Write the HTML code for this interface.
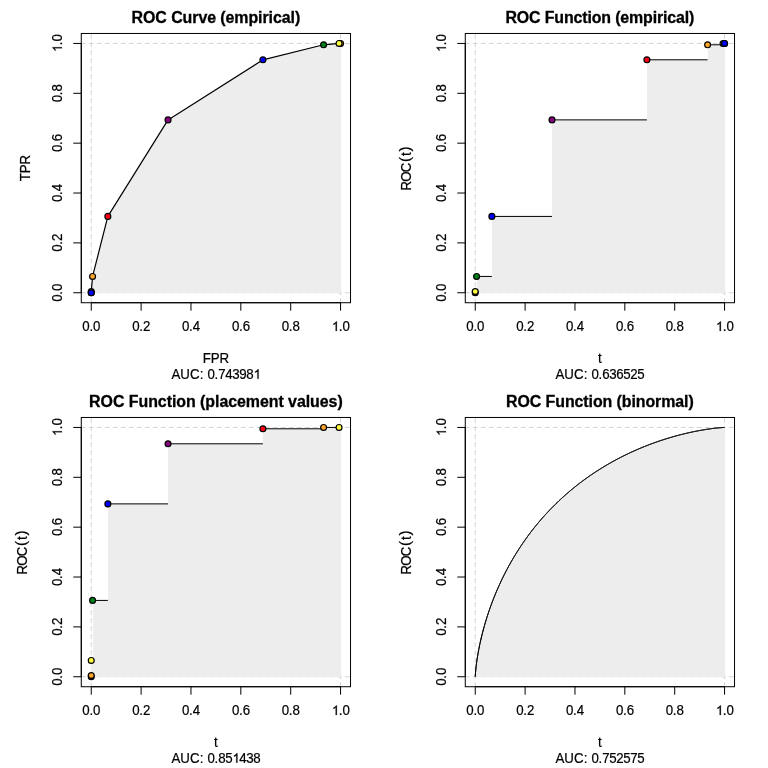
<!DOCTYPE html><html><head><meta charset="utf-8"><style>html,body{margin:0;padding:0;background:#fff;overflow:hidden}svg{display:block;will-change:transform}</style></head><body>
<svg width="768" height="768" viewBox="0 0 768 768">
<rect width="768" height="768" fill="#fff"/>
<g transform="translate(0,0)">
<g stroke="#D3D3D3" stroke-width="1.0" stroke-dasharray="4 4" stroke-linecap="round" fill="none">
<line x1="81.27" y1="292.76" x2="350.53" y2="292.76"/>
<line x1="81.27" y1="43.45" x2="350.53" y2="43.45"/>
<line x1="91.25" y1="302.73" x2="91.25" y2="33.47"/>
<line x1="340.56" y1="302.73" x2="340.56" y2="33.47"/>
</g>
<polygon points="91.25,292.76 91.25,291.51 92.59,276.43 107.85,216.42 168.03,119.89 262.9,59.8 323.6,44.79 339.06,43.45 340.56,43.45 340.56,292.76" fill="#EDEDED" shape-rendering="crispEdges"/>
<polyline points="91.25,292.76 91.25,291.51 92.59,276.43 107.85,216.42 168.03,119.89 262.9,59.8 323.6,44.79 339.06,43.45 340.56,43.45" fill="none" stroke="#000" stroke-width="1.2" stroke-linejoin="round"/>
<g stroke="#000" stroke-width="1.0"><circle cx="340.56" cy="43.45" r="2.95" fill="#FFA52C" stroke="none" shape-rendering="crispEdges"/><circle cx="340.56" cy="43.45" r="2.95" fill="none" stroke-width="1.2"/><circle cx="339.06" cy="43.45" r="2.95" fill="#FFFF41" stroke="none" shape-rendering="crispEdges"/><circle cx="339.06" cy="43.45" r="2.95" fill="none" stroke-width="1.2"/><circle cx="323.6" cy="44.79" r="2.95" fill="#008018" stroke="none" shape-rendering="crispEdges"/><circle cx="323.6" cy="44.79" r="2.95" fill="none" stroke-width="1.2"/><circle cx="262.9" cy="59.8" r="2.95" fill="#0000F9" stroke="none" shape-rendering="crispEdges"/><circle cx="262.9" cy="59.8" r="2.95" fill="none" stroke-width="1.2"/><circle cx="168.03" cy="119.89" r="2.95" fill="#86007D" stroke="none" shape-rendering="crispEdges"/><circle cx="168.03" cy="119.89" r="2.95" fill="none" stroke-width="1.2"/><circle cx="107.85" cy="216.42" r="2.95" fill="#FF0018" stroke="none" shape-rendering="crispEdges"/><circle cx="107.85" cy="216.42" r="2.95" fill="none" stroke-width="1.2"/><circle cx="92.59" cy="276.43" r="2.95" fill="#FFA52C" stroke="none" shape-rendering="crispEdges"/><circle cx="92.59" cy="276.43" r="2.95" fill="none" stroke-width="1.2"/><circle cx="91.25" cy="291.51" r="2.95" fill="#FFFF41" stroke="none" shape-rendering="crispEdges"/><circle cx="91.25" cy="291.51" r="2.95" fill="none" stroke-width="1.2"/><circle cx="91.25" cy="292.76" r="2.95" fill="#008018" stroke="none" shape-rendering="crispEdges"/><circle cx="91.25" cy="292.76" r="2.95" fill="none" stroke-width="1.2"/><circle cx="91.25" cy="292.76" r="2.95" fill="#0000F9" stroke="none" shape-rendering="crispEdges"/><circle cx="91.25" cy="292.76" r="2.95" fill="none" stroke-width="1.2"/></g>
<rect x="81.27" y="33.47" width="269.26" height="269.26" fill="none" stroke="#000" stroke-width="1.0"/>
<path d="M91.25 302.73H340.56 M81.27 292.76V43.45 M91.25 302.73v7.97 M81.27 292.76h-7.97 M141.11 302.73v7.97 M81.27 242.9h-7.97 M190.97 302.73v7.97 M81.27 193.03h-7.97 M240.83 302.73v7.97 M81.27 143.17h-7.97 M290.7 302.73v7.97 M81.27 93.31h-7.97 M340.56 302.73v7.97 M81.27 43.45h-7.97" stroke="#000" stroke-width="1.0" fill="none"/>
<g font-family="Liberation Sans, sans-serif" font-size="13.28" text-anchor="middle" fill="#000" stroke="#000" stroke-width="0.2">
<g transform="translate(91.25 331) scale(1 1.09)"><text text-anchor="start" x="-8.91 -1.87 1.87">0.0</text></g>
<g transform="translate(62 292.76) rotate(-90) scale(1 1.09)"><text text-anchor="start" x="-8.91 -1.87 1.87">0.0</text></g>
<g transform="translate(141.11 331) scale(1 1.09)"><text text-anchor="start" x="-8.91 -1.87 1.87">0.2</text></g>
<g transform="translate(62 242.9) rotate(-90) scale(1 1.09)"><text text-anchor="start" x="-8.91 -1.87 1.87">0.2</text></g>
<g transform="translate(190.97 331) scale(1 1.09)"><text text-anchor="start" x="-8.91 -1.87 1.87">0.4</text></g>
<g transform="translate(62 193.03) rotate(-90) scale(1 1.09)"><text text-anchor="start" x="-8.91 -1.87 1.87">0.4</text></g>
<g transform="translate(240.83 331) scale(1 1.09)"><text text-anchor="start" x="-8.91 -1.87 1.87">0.6</text></g>
<g transform="translate(62 143.17) rotate(-90) scale(1 1.09)"><text text-anchor="start" x="-8.91 -1.87 1.87">0.6</text></g>
<g transform="translate(290.7 331) scale(1 1.09)"><text text-anchor="start" x="-8.91 -1.87 1.87">0.8</text></g>
<g transform="translate(62 93.31) rotate(-90) scale(1 1.09)"><text text-anchor="start" x="-8.91 -1.87 1.87">0.8</text></g>
<g transform="translate(340.56 331) scale(1 1.09)"><text text-anchor="start" x="-1.87 1.87">.0</text><path transform="translate(-8.66 0) scale(0.006484 -0.006484)" d="M583 0L763 0L763 1334L646 1334Q598 1247 482 1161Q366 1076 230 1019L230 861Q300 885 391 933Q482 981 583 1044Z" stroke-width="30.8"/></g>
<g transform="translate(62 43.45) rotate(-90) scale(1 1.09)"><text text-anchor="start" x="-1.87 1.87">.0</text><path transform="translate(-8.66 0) scale(0.006484 -0.006484)" d="M583 0L763 0L763 1334L646 1334Q598 1247 482 1161Q366 1076 230 1019L230 861Q300 885 391 933Q482 981 583 1044Z" stroke-width="30.8"/></g>
<g transform="translate(215.9 362.9) scale(1 1.09)"><text text-anchor="start" x="-13.28 -5.17 3.69">FPR</text></g>
<g transform="translate(215.9 378.8) scale(1 1.09)"><text text-anchor="start" x="-44.51 -35.61 -25.91 -16.21 -8.51 -1.47 2.27 9.31 16.35 23.39 30.43">AUC:0.74398</text><path transform="translate(37.72 0) scale(0.006484 -0.006484)" d="M583 0L763 0L763 1334L646 1334Q598 1247 482 1161Q366 1076 230 1019L230 861Q300 885 391 933Q482 981 583 1044Z" stroke-width="30.8"/></g>
<g transform="translate(30 168.1) rotate(-90) scale(1 1.09)"><text text-anchor="start" x="-13.28 -5.17 3.69">TPR</text></g>
<text transform="translate(215.9 22.6) scale(1 1.09)" font-weight="bold" font-size="15.94" stroke-width="0.3" textLength="168.6" lengthAdjust="spacing">ROC Curve (empirical)</text>
</g>
</g>
<g transform="translate(384,0)">
<g stroke="#D3D3D3" stroke-width="1.0" stroke-dasharray="4 4" stroke-linecap="round" fill="none">
<line x1="81.27" y1="292.76" x2="350.53" y2="292.76"/>
<line x1="81.27" y1="43.45" x2="350.53" y2="43.45"/>
<line x1="91.25" y1="302.73" x2="91.25" y2="33.47"/>
<line x1="340.56" y1="302.73" x2="340.56" y2="33.47"/>
</g>
<polygon points="91.25,292.76 91.25,292.76 91.25,292.76 91.25,291.51 92.59,291.51 92.59,276.43 107.85,276.43 107.85,216.42 168.03,216.42 168.03,119.89 262.9,119.89 262.9,59.8 323.6,59.8 323.6,44.79 339.06,44.79 339.06,43.45 340.56,43.45 340.56,43.45 340.56,43.45 340.56,292.76" fill="#EDEDED" shape-rendering="crispEdges"/>
<path d="M91.25 291.51H92.59 M92.59 276.43H107.85 M107.85 216.42H168.03 M168.03 119.89H262.9 M262.9 59.8H323.6 M323.6 44.79H339.06 M339.06 43.45H340.56" fill="none" stroke="#000" stroke-width="1.0"/>
<g stroke="#000" stroke-width="1.0"><circle cx="91.25" cy="292.76" r="2.95" fill="#FFA52C" stroke="none" shape-rendering="crispEdges"/><circle cx="91.25" cy="292.76" r="2.95" fill="none" stroke-width="1.2"/><circle cx="91.25" cy="291.51" r="2.95" fill="#FFFF41" stroke="none" shape-rendering="crispEdges"/><circle cx="91.25" cy="291.51" r="2.95" fill="none" stroke-width="1.2"/><circle cx="92.59" cy="276.43" r="2.95" fill="#008018" stroke="none" shape-rendering="crispEdges"/><circle cx="92.59" cy="276.43" r="2.95" fill="none" stroke-width="1.2"/><circle cx="107.85" cy="216.42" r="2.95" fill="#0000F9" stroke="none" shape-rendering="crispEdges"/><circle cx="107.85" cy="216.42" r="2.95" fill="none" stroke-width="1.2"/><circle cx="168.03" cy="119.89" r="2.95" fill="#86007D" stroke="none" shape-rendering="crispEdges"/><circle cx="168.03" cy="119.89" r="2.95" fill="none" stroke-width="1.2"/><circle cx="262.9" cy="59.8" r="2.95" fill="#FF0018" stroke="none" shape-rendering="crispEdges"/><circle cx="262.9" cy="59.8" r="2.95" fill="none" stroke-width="1.2"/><circle cx="323.6" cy="44.79" r="2.95" fill="#FFA52C" stroke="none" shape-rendering="crispEdges"/><circle cx="323.6" cy="44.79" r="2.95" fill="none" stroke-width="1.2"/><circle cx="339.06" cy="43.45" r="2.95" fill="#FFFF41" stroke="none" shape-rendering="crispEdges"/><circle cx="339.06" cy="43.45" r="2.95" fill="none" stroke-width="1.2"/><circle cx="340.56" cy="43.45" r="2.95" fill="#008018" stroke="none" shape-rendering="crispEdges"/><circle cx="340.56" cy="43.45" r="2.95" fill="none" stroke-width="1.2"/><circle cx="340.56" cy="43.45" r="2.95" fill="#0000F9" stroke="none" shape-rendering="crispEdges"/><circle cx="340.56" cy="43.45" r="2.95" fill="none" stroke-width="1.2"/></g>
<rect x="81.27" y="33.47" width="269.26" height="269.26" fill="none" stroke="#000" stroke-width="1.0"/>
<path d="M91.25 302.73H340.56 M81.27 292.76V43.45 M91.25 302.73v7.97 M81.27 292.76h-7.97 M141.11 302.73v7.97 M81.27 242.9h-7.97 M190.97 302.73v7.97 M81.27 193.03h-7.97 M240.83 302.73v7.97 M81.27 143.17h-7.97 M290.7 302.73v7.97 M81.27 93.31h-7.97 M340.56 302.73v7.97 M81.27 43.45h-7.97" stroke="#000" stroke-width="1.0" fill="none"/>
<g font-family="Liberation Sans, sans-serif" font-size="13.28" text-anchor="middle" fill="#000" stroke="#000" stroke-width="0.2">
<g transform="translate(91.25 331) scale(1 1.09)"><text text-anchor="start" x="-8.91 -1.87 1.87">0.0</text></g>
<g transform="translate(62 292.76) rotate(-90) scale(1 1.09)"><text text-anchor="start" x="-8.91 -1.87 1.87">0.0</text></g>
<g transform="translate(141.11 331) scale(1 1.09)"><text text-anchor="start" x="-8.91 -1.87 1.87">0.2</text></g>
<g transform="translate(62 242.9) rotate(-90) scale(1 1.09)"><text text-anchor="start" x="-8.91 -1.87 1.87">0.2</text></g>
<g transform="translate(190.97 331) scale(1 1.09)"><text text-anchor="start" x="-8.91 -1.87 1.87">0.4</text></g>
<g transform="translate(62 193.03) rotate(-90) scale(1 1.09)"><text text-anchor="start" x="-8.91 -1.87 1.87">0.4</text></g>
<g transform="translate(240.83 331) scale(1 1.09)"><text text-anchor="start" x="-8.91 -1.87 1.87">0.6</text></g>
<g transform="translate(62 143.17) rotate(-90) scale(1 1.09)"><text text-anchor="start" x="-8.91 -1.87 1.87">0.6</text></g>
<g transform="translate(290.7 331) scale(1 1.09)"><text text-anchor="start" x="-8.91 -1.87 1.87">0.8</text></g>
<g transform="translate(62 93.31) rotate(-90) scale(1 1.09)"><text text-anchor="start" x="-8.91 -1.87 1.87">0.8</text></g>
<g transform="translate(340.56 331) scale(1 1.09)"><text text-anchor="start" x="-1.87 1.87">.0</text><path transform="translate(-8.66 0) scale(0.006484 -0.006484)" d="M583 0L763 0L763 1334L646 1334Q598 1247 482 1161Q366 1076 230 1019L230 861Q300 885 391 933Q482 981 583 1044Z" stroke-width="30.8"/></g>
<g transform="translate(62 43.45) rotate(-90) scale(1 1.09)"><text text-anchor="start" x="-1.87 1.87">.0</text><path transform="translate(-8.66 0) scale(0.006484 -0.006484)" d="M583 0L763 0L763 1334L646 1334Q598 1247 482 1161Q366 1076 230 1019L230 861Q300 885 391 933Q482 981 583 1044Z" stroke-width="30.8"/></g>
<g transform="translate(215.9 362.9) scale(1 1.09)"><text text-anchor="start" x="-1.84">t</text></g>
<g transform="translate(215.9 378.8) scale(1 1.09)"><text text-anchor="start" x="-44.51 -35.61 -25.91 -16.21 -8.51 -1.47 2.27 9.31 16.35 23.39 30.43 37.47">AUC:0.636525</text></g>
<g text-anchor="start">
<text transform="translate(26.9 190.5) rotate(-90) scale(1 1.09)" font-size="13.28">R</text>
<text transform="translate(26.9 181.63) rotate(-90) scale(1 1.09)" font-size="13.28">O</text>
<text transform="translate(26.9 172.17) rotate(-90) scale(1 1.09)" font-size="13.28">C</text>
<text transform="translate(26.4 162) rotate(-90) scale(1 1)" font-size="15.4">(</text>
<text transform="translate(26.9 156) rotate(-90) scale(1 1.09)" font-size="13.28">t</text>
<text transform="translate(26.4 151.4) rotate(-90) scale(1 1)" font-size="15.0">)</text>
</g>
<text transform="translate(215.9 22.6) scale(1 1.09)" font-weight="bold" font-size="15.94" stroke-width="0.3" textLength="188.9" lengthAdjust="spacing">ROC Function (empirical)</text>
</g>
</g>
<g transform="translate(0,384)">
<g stroke="#D3D3D3" stroke-width="1.0" stroke-dasharray="4 4" stroke-linecap="round" fill="none">
<line x1="81.27" y1="292.76" x2="350.53" y2="292.76"/>
<line x1="81.27" y1="43.45" x2="350.53" y2="43.45"/>
<line x1="91.25" y1="302.73" x2="91.25" y2="33.47"/>
<line x1="340.56" y1="302.73" x2="340.56" y2="33.47"/>
</g>
<polygon points="91.25,292.76 91.25,292.76 91.25,292.76 91.25,291.51 91.25,291.51 91.25,276.43 92.59,276.43 92.59,216.42 107.85,216.42 107.85,119.89 168.03,119.89 168.03,59.8 262.9,59.8 262.9,44.79 323.6,44.79 323.6,43.45 339.06,43.45 339.06,43.45 340.56,43.45 340.56,292.76" fill="#EDEDED" shape-rendering="crispEdges"/>
<path d="M91.25 276.43H92.59 M92.59 216.42H107.85 M107.85 119.89H168.03 M168.03 59.8H262.9 M262.9 44.79H323.6 M323.6 43.45H339.06 M339.06 43.45H340.56" fill="none" stroke="#000" stroke-width="1.0"/>
<g stroke="#000" stroke-width="1.0"><circle cx="91.25" cy="292.76" r="2.95" fill="#FF0018" stroke="none" shape-rendering="crispEdges"/><circle cx="91.25" cy="292.76" r="2.95" fill="none" stroke-width="1.2"/><circle cx="91.25" cy="291.51" r="2.95" fill="#FFA52C" stroke="none" shape-rendering="crispEdges"/><circle cx="91.25" cy="291.51" r="2.95" fill="none" stroke-width="1.2"/><circle cx="91.25" cy="276.43" r="2.95" fill="#FFFF41" stroke="none" shape-rendering="crispEdges"/><circle cx="91.25" cy="276.43" r="2.95" fill="none" stroke-width="1.2"/><circle cx="92.59" cy="216.42" r="2.95" fill="#008018" stroke="none" shape-rendering="crispEdges"/><circle cx="92.59" cy="216.42" r="2.95" fill="none" stroke-width="1.2"/><circle cx="107.85" cy="119.89" r="2.95" fill="#0000F9" stroke="none" shape-rendering="crispEdges"/><circle cx="107.85" cy="119.89" r="2.95" fill="none" stroke-width="1.2"/><circle cx="168.03" cy="59.8" r="2.95" fill="#86007D" stroke="none" shape-rendering="crispEdges"/><circle cx="168.03" cy="59.8" r="2.95" fill="none" stroke-width="1.2"/><circle cx="262.9" cy="44.79" r="2.95" fill="#FF0018" stroke="none" shape-rendering="crispEdges"/><circle cx="262.9" cy="44.79" r="2.95" fill="none" stroke-width="1.2"/><circle cx="323.6" cy="43.45" r="2.95" fill="#FFA52C" stroke="none" shape-rendering="crispEdges"/><circle cx="323.6" cy="43.45" r="2.95" fill="none" stroke-width="1.2"/><circle cx="339.06" cy="43.45" r="2.95" fill="#FFFF41" stroke="none" shape-rendering="crispEdges"/><circle cx="339.06" cy="43.45" r="2.95" fill="none" stroke-width="1.2"/></g>
<rect x="81.27" y="33.47" width="269.26" height="269.26" fill="none" stroke="#000" stroke-width="1.0"/>
<path d="M91.25 302.73H340.56 M81.27 292.76V43.45 M91.25 302.73v7.97 M81.27 292.76h-7.97 M141.11 302.73v7.97 M81.27 242.9h-7.97 M190.97 302.73v7.97 M81.27 193.03h-7.97 M240.83 302.73v7.97 M81.27 143.17h-7.97 M290.7 302.73v7.97 M81.27 93.31h-7.97 M340.56 302.73v7.97 M81.27 43.45h-7.97" stroke="#000" stroke-width="1.0" fill="none"/>
<g font-family="Liberation Sans, sans-serif" font-size="13.28" text-anchor="middle" fill="#000" stroke="#000" stroke-width="0.2">
<g transform="translate(91.25 331) scale(1 1.09)"><text text-anchor="start" x="-8.91 -1.87 1.87">0.0</text></g>
<g transform="translate(62 292.76) rotate(-90) scale(1 1.09)"><text text-anchor="start" x="-8.91 -1.87 1.87">0.0</text></g>
<g transform="translate(141.11 331) scale(1 1.09)"><text text-anchor="start" x="-8.91 -1.87 1.87">0.2</text></g>
<g transform="translate(62 242.9) rotate(-90) scale(1 1.09)"><text text-anchor="start" x="-8.91 -1.87 1.87">0.2</text></g>
<g transform="translate(190.97 331) scale(1 1.09)"><text text-anchor="start" x="-8.91 -1.87 1.87">0.4</text></g>
<g transform="translate(62 193.03) rotate(-90) scale(1 1.09)"><text text-anchor="start" x="-8.91 -1.87 1.87">0.4</text></g>
<g transform="translate(240.83 331) scale(1 1.09)"><text text-anchor="start" x="-8.91 -1.87 1.87">0.6</text></g>
<g transform="translate(62 143.17) rotate(-90) scale(1 1.09)"><text text-anchor="start" x="-8.91 -1.87 1.87">0.6</text></g>
<g transform="translate(290.7 331) scale(1 1.09)"><text text-anchor="start" x="-8.91 -1.87 1.87">0.8</text></g>
<g transform="translate(62 93.31) rotate(-90) scale(1 1.09)"><text text-anchor="start" x="-8.91 -1.87 1.87">0.8</text></g>
<g transform="translate(340.56 331) scale(1 1.09)"><text text-anchor="start" x="-1.87 1.87">.0</text><path transform="translate(-8.66 0) scale(0.006484 -0.006484)" d="M583 0L763 0L763 1334L646 1334Q598 1247 482 1161Q366 1076 230 1019L230 861Q300 885 391 933Q482 981 583 1044Z" stroke-width="30.8"/></g>
<g transform="translate(62 43.45) rotate(-90) scale(1 1.09)"><text text-anchor="start" x="-1.87 1.87">.0</text><path transform="translate(-8.66 0) scale(0.006484 -0.006484)" d="M583 0L763 0L763 1334L646 1334Q598 1247 482 1161Q366 1076 230 1019L230 861Q300 885 391 933Q482 981 583 1044Z" stroke-width="30.8"/></g>
<g transform="translate(215.9 362.9) scale(1 1.09)"><text text-anchor="start" x="-1.84">t</text></g>
<g transform="translate(215.9 378.8) scale(1 1.09)"><text text-anchor="start" x="-44.51 -35.61 -25.91 -16.21 -8.51 -1.47 2.27 9.31 23.39 30.43 37.47">AUC:0.85438</text><path transform="translate(16.6 0) scale(0.006484 -0.006484)" d="M583 0L763 0L763 1334L646 1334Q598 1247 482 1161Q366 1076 230 1019L230 861Q300 885 391 933Q482 981 583 1044Z" stroke-width="30.8"/></g>
<g text-anchor="start">
<text transform="translate(26.9 190.5) rotate(-90) scale(1 1.09)" font-size="13.28">R</text>
<text transform="translate(26.9 181.63) rotate(-90) scale(1 1.09)" font-size="13.28">O</text>
<text transform="translate(26.9 172.17) rotate(-90) scale(1 1.09)" font-size="13.28">C</text>
<text transform="translate(26.4 162) rotate(-90) scale(1 1)" font-size="15.4">(</text>
<text transform="translate(26.9 156) rotate(-90) scale(1 1.09)" font-size="13.28">t</text>
<text transform="translate(26.4 151.4) rotate(-90) scale(1 1)" font-size="15.0">)</text>
</g>
<text transform="translate(215.9 22.6) scale(1 1.09)" font-weight="bold" font-size="15.94" stroke-width="0.3" textLength="253.6" lengthAdjust="spacing">ROC Function (placement values)</text>
</g>
</g>
<g transform="translate(384,384)">
<g stroke="#D3D3D3" stroke-width="1.0" stroke-dasharray="4 4" stroke-linecap="round" fill="none">
<line x1="81.27" y1="292.76" x2="350.53" y2="292.76"/>
<line x1="81.27" y1="43.45" x2="350.53" y2="43.45"/>
<line x1="91.25" y1="302.73" x2="91.25" y2="33.47"/>
<line x1="340.56" y1="302.73" x2="340.56" y2="33.47"/>
</g>
<polygon points="91.25,292.76 91.5,288.58 91.75,285.81 91.99,283.46 92.24,281.35 92.49,279.4 92.74,277.58 92.99,275.86 93.24,274.22 93.49,272.65 93.74,271.15 93.99,269.7 94.24,268.29 94.49,266.93 94.74,265.61 94.99,264.32 95.24,263.07 95.48,261.85 95.73,260.65 95.98,259.48 96.23,258.33 96.48,257.21 96.73,256.1 96.98,255.02 97.23,253.96 97.48,252.91 97.73,251.88 97.98,250.87 98.23,249.87 98.48,248.89 98.73,247.92 98.98,246.97 99.22,246.03 99.47,245.1 99.72,244.18 99.97,243.28 100.22,242.38 100.47,241.5 100.72,240.63 100.97,239.77 101.22,238.91 101.47,238.07 101.72,237.24 101.97,236.41 102.22,235.6 102.47,234.79 102.71,233.99 102.96,233.2 103.21,232.41 103.46,231.64 103.71,230.87 103.96,230.11 104.21,229.35 104.46,228.61 104.71,227.86 104.96,227.13 105.21,226.4 105.46,225.68 105.71,224.96 105.96,224.25 106.21,223.55 106.45,222.85 106.7,222.16 106.95,221.47 107.2,220.79 107.45,220.11 107.7,219.44 107.95,218.77 108.2,218.11 108.45,217.45 108.7,216.8 108.95,216.15 109.2,215.51 109.45,214.87 109.7,214.23 109.94,213.6 110.19,212.98 110.44,212.36 110.69,211.74 110.94,211.13 111.19,210.52 111.44,209.91 111.69,209.31 111.94,208.71 112.19,208.12 112.44,207.53 112.69,206.94 112.94,206.36 113.19,205.78 113.44,205.2 113.68,204.63 113.93,204.06 114.18,203.5 114.43,202.94 114.68,202.38 114.93,201.82 115.18,201.27 115.43,200.72 115.68,200.17 115.93,199.63 116.18,199.09 116.43,198.55 116.68,198.02 116.93,197.48 117.17,196.95 117.42,196.43 117.67,195.91 117.92,195.38 118.17,194.87 118.42,194.35 118.67,193.84 118.92,193.33 119.17,192.82 119.42,192.32 119.67,191.82 119.92,191.32 120.17,190.82 120.42,190.32 120.67,189.83 120.91,189.34 121.16,188.85 121.41,188.37 121.66,187.89 121.91,187.41 122.16,186.93 122.41,186.45 122.66,185.98 122.91,185.51 123.16,185.04 123.41,184.57 123.66,184.1 123.91,183.64 124.16,183.18 124.4,182.72 124.65,182.26 124.9,181.81 125.15,181.36 125.4,180.91 125.65,180.46 125.9,180.01 126.15,179.57 126.4,179.12 126.65,178.68 126.9,178.24 127.15,177.81 127.4,177.37 127.65,176.94 127.9,176.51 128.14,176.08 128.39,175.65 128.64,175.22 128.89,174.8 129.14,174.37 129.39,173.95 129.64,173.53 129.89,173.11 130.14,172.7 130.39,172.28 130.64,171.87 130.89,171.46 131.14,171.05 131.39,170.64 131.63,170.24 131.88,169.83 132.13,169.43 132.38,169.03 132.63,168.63 132.88,168.23 133.13,167.83 133.38,167.44 133.63,167.04 133.88,166.65 134.13,166.26 134.38,165.87 134.63,165.48 134.88,165.1 135.13,164.71 135.37,164.33 135.62,163.95 135.87,163.57 136.12,163.19 136.37,162.81 136.62,162.43 136.87,162.06 137.12,161.68 137.37,161.31 137.62,160.94 137.87,160.57 138.12,160.2 138.37,159.84 138.62,159.47 138.86,159.1 139.11,158.74 139.36,158.38 139.61,158.02 139.86,157.66 140.11,157.3 140.36,156.94 140.61,156.59 140.86,156.23 141.11,155.88 141.36,155.53 141.61,155.18 141.86,154.83 142.11,154.48 142.36,154.13 142.6,153.79 142.85,153.44 143.1,153.1 143.35,152.76 143.6,152.42 143.85,152.07 144.1,151.74 144.35,151.4 144.6,151.06 144.85,150.73 145.1,150.39 145.35,150.06 145.6,149.72 145.85,149.39 146.09,149.06 146.34,148.73 146.59,148.41 146.84,148.08 147.09,147.75 147.34,147.43 147.59,147.1 147.84,146.78 148.09,146.46 148.34,146.14 148.59,145.82 148.84,145.5 149.09,145.18 149.34,144.86 149.59,144.55 149.83,144.23 150.08,143.92 150.33,143.61 150.58,143.3 150.83,142.99 151.08,142.68 151.33,142.37 151.58,142.06 151.83,141.75 152.08,141.45 152.33,141.14 152.58,140.84 152.83,140.53 153.08,140.23 153.32,139.93 153.57,139.63 153.82,139.33 154.07,139.03 154.32,138.73 154.57,138.43 154.82,138.14 155.07,137.84 155.32,137.55 155.57,137.26 155.82,136.96 156.07,136.67 156.32,136.38 156.57,136.09 156.82,135.8 157.06,135.51 157.31,135.23 157.56,134.94 157.81,134.65 158.06,134.37 158.31,134.09 158.56,133.8 158.81,133.52 159.06,133.24 159.31,132.96 159.56,132.68 159.81,132.4 160.06,132.12 160.31,131.84 160.55,131.57 160.8,131.29 161.05,131.02 161.3,130.74 161.55,130.47 161.8,130.2 162.05,129.92 162.3,129.65 162.55,129.38 162.8,129.11 163.05,128.84 163.3,128.58 163.55,128.31 163.8,128.04 164.05,127.78 164.29,127.51 164.54,127.25 164.79,126.98 165.04,126.72 165.29,126.46 165.54,126.2 165.79,125.94 166.04,125.68 166.29,125.42 166.54,125.16 166.79,124.9 167.04,124.64 167.29,124.39 167.54,124.13 167.78,123.88 168.03,123.62 168.28,123.37 168.53,123.11 168.78,122.86 169.03,122.61 169.28,122.36 169.53,122.11 169.78,121.86 170.03,121.61 170.28,121.36 170.53,121.12 170.78,120.87 171.03,120.62 171.28,120.38 171.52,120.13 171.77,119.89 172.02,119.64 172.27,119.4 172.52,119.16 172.77,118.92 173.02,118.68 173.27,118.44 173.52,118.2 173.77,117.96 174.02,117.72 174.27,117.48 174.52,117.25 174.77,117.01 175.01,116.77 175.26,116.54 175.51,116.3 175.76,116.07 176.01,115.84 176.26,115.6 176.51,115.37 176.76,115.14 177.01,114.91 177.26,114.68 177.51,114.45 177.76,114.22 178.01,113.99 178.26,113.76 178.51,113.54 178.75,113.31 179,113.08 179.25,112.86 179.5,112.63 179.75,112.41 180,112.18 180.25,111.96 180.5,111.74 180.75,111.52 181,111.29 181.25,111.07 181.5,110.85 181.75,110.63 182,110.41 182.25,110.2 182.49,109.98 182.74,109.76 182.99,109.54 183.24,109.33 183.49,109.11 183.74,108.9 183.99,108.68 184.24,108.47 184.49,108.25 184.74,108.04 184.99,107.83 185.24,107.62 185.49,107.4 185.74,107.19 185.98,106.98 186.23,106.77 186.48,106.56 186.73,106.35 186.98,106.15 187.23,105.94 187.48,105.73 187.73,105.52 187.98,105.32 188.23,105.11 188.48,104.91 188.73,104.7 188.98,104.5 189.23,104.29 189.48,104.09 189.72,103.89 189.97,103.69 190.22,103.48 190.47,103.28 190.72,103.08 190.97,102.88 191.22,102.68 191.47,102.48 191.72,102.29 191.97,102.09 192.22,101.89 192.47,101.69 192.72,101.5 192.97,101.3 193.21,101.1 193.46,100.91 193.71,100.71 193.96,100.52 194.21,100.33 194.46,100.13 194.71,99.94 194.96,99.75 195.21,99.56 195.46,99.36 195.71,99.17 195.96,98.98 196.21,98.79 196.46,98.6 196.71,98.41 196.95,98.23 197.2,98.04 197.45,97.85 197.7,97.66 197.95,97.48 198.2,97.29 198.45,97.1 198.7,96.92 198.95,96.73 199.2,96.55 199.45,96.37 199.7,96.18 199.95,96 200.2,95.82 200.44,95.63 200.69,95.45 200.94,95.27 201.19,95.09 201.44,94.91 201.69,94.73 201.94,94.55 202.19,94.37 202.44,94.19 202.69,94.01 202.94,93.84 203.19,93.66 203.44,93.48 203.69,93.31 203.94,93.13 204.18,92.95 204.43,92.78 204.68,92.6 204.93,92.43 205.18,92.26 205.43,92.08 205.68,91.91 205.93,91.74 206.18,91.56 206.43,91.39 206.68,91.22 206.93,91.05 207.18,90.88 207.43,90.71 207.67,90.54 207.92,90.37 208.17,90.2 208.42,90.03 208.67,89.86 208.92,89.7 209.17,89.53 209.42,89.36 209.67,89.2 209.92,89.03 210.17,88.86 210.42,88.7 210.67,88.53 210.92,88.37 211.17,88.21 211.41,88.04 211.66,87.88 211.91,87.72 212.16,87.55 212.41,87.39 212.66,87.23 212.91,87.07 213.16,86.91 213.41,86.75 213.66,86.59 213.91,86.43 214.16,86.27 214.41,86.11 214.66,85.95 214.9,85.79 215.15,85.63 215.4,85.48 215.65,85.32 215.9,85.16 216.15,85.01 216.4,84.85 216.65,84.69 216.9,84.54 217.15,84.38 217.4,84.23 217.65,84.08 217.9,83.92 218.15,83.77 218.4,83.62 218.64,83.46 218.89,83.31 219.14,83.16 219.39,83.01 219.64,82.86 219.89,82.71 220.14,82.55 220.39,82.4 220.64,82.25 220.89,82.11 221.14,81.96 221.39,81.81 221.64,81.66 221.89,81.51 222.13,81.36 222.38,81.22 222.63,81.07 222.88,80.92 223.13,80.78 223.38,80.63 223.63,80.49 223.88,80.34 224.13,80.2 224.38,80.05 224.63,79.91 224.88,79.77 225.13,79.62 225.38,79.48 225.63,79.34 225.87,79.19 226.12,79.05 226.37,78.91 226.62,78.77 226.87,78.63 227.12,78.49 227.37,78.35 227.62,78.21 227.87,78.07 228.12,77.93 228.37,77.79 228.62,77.65 228.87,77.51 229.12,77.38 229.36,77.24 229.61,77.1 229.86,76.96 230.11,76.83 230.36,76.69 230.61,76.56 230.86,76.42 231.11,76.29 231.36,76.15 231.61,76.02 231.86,75.88 232.11,75.75 232.36,75.61 232.61,75.48 232.86,75.35 233.1,75.22 233.35,75.08 233.6,74.95 233.85,74.82 234.1,74.69 234.35,74.56 234.6,74.43 234.85,74.3 235.1,74.17 235.35,74.04 235.6,73.91 235.85,73.78 236.1,73.65 236.35,73.52 236.59,73.39 236.84,73.27 237.09,73.14 237.34,73.01 237.59,72.89 237.84,72.76 238.09,72.63 238.34,72.51 238.59,72.38 238.84,72.26 239.09,72.13 239.34,72.01 239.59,71.88 239.84,71.76 240.09,71.63 240.33,71.51 240.58,71.39 240.83,71.27 241.08,71.14 241.33,71.02 241.58,70.9 241.83,70.78 242.08,70.66 242.33,70.54 242.58,70.41 242.83,70.29 243.08,70.17 243.33,70.05 243.58,69.94 243.82,69.82 244.07,69.7 244.32,69.58 244.57,69.46 244.82,69.34 245.07,69.23 245.32,69.11 245.57,68.99 245.82,68.87 246.07,68.76 246.32,68.64 246.57,68.53 246.82,68.41 247.07,68.3 247.32,68.18 247.56,68.07 247.81,67.95 248.06,67.84 248.31,67.72 248.56,67.61 248.81,67.5 249.06,67.38 249.31,67.27 249.56,67.16 249.81,67.05 250.06,66.93 250.31,66.82 250.56,66.71 250.81,66.6 251.05,66.49 251.3,66.38 251.55,66.27 251.8,66.16 252.05,66.05 252.3,65.94 252.55,65.83 252.8,65.72 253.05,65.62 253.3,65.51 253.55,65.4 253.8,65.29 254.05,65.19 254.3,65.08 254.55,64.97 254.79,64.87 255.04,64.76 255.29,64.65 255.54,64.55 255.79,64.44 256.04,64.34 256.29,64.23 256.54,64.13 256.79,64.02 257.04,63.92 257.29,63.82 257.54,63.71 257.79,63.61 258.04,63.51 258.28,63.4 258.53,63.3 258.78,63.2 259.03,63.1 259.28,63 259.53,62.9 259.78,62.8 260.03,62.69 260.28,62.59 260.53,62.49 260.78,62.39 261.03,62.29 261.28,62.2 261.53,62.1 261.78,62 262.02,61.9 262.27,61.8 262.52,61.7 262.77,61.61 263.02,61.51 263.27,61.41 263.52,61.31 263.77,61.22 264.02,61.12 264.27,61.02 264.52,60.93 264.77,60.83 265.02,60.74 265.27,60.64 265.51,60.55 265.76,60.45 266.01,60.36 266.26,60.27 266.51,60.17 266.76,60.08 267.01,59.99 267.26,59.89 267.51,59.8 267.76,59.71 268.01,59.61 268.26,59.52 268.51,59.43 268.76,59.34 269.01,59.25 269.25,59.16 269.5,59.07 269.75,58.98 270,58.89 270.25,58.8 270.5,58.71 270.75,58.62 271,58.53 271.25,58.44 271.5,58.35 271.75,58.26 272,58.18 272.25,58.09 272.5,58 272.74,57.91 272.99,57.83 273.24,57.74 273.49,57.65 273.74,57.57 273.99,57.48 274.24,57.39 274.49,57.31 274.74,57.22 274.99,57.14 275.24,57.05 275.49,56.97 275.74,56.88 275.99,56.8 276.24,56.72 276.48,56.63 276.73,56.55 276.98,56.47 277.23,56.38 277.48,56.3 277.73,56.22 277.98,56.14 278.23,56.06 278.48,55.97 278.73,55.89 278.98,55.81 279.23,55.73 279.48,55.65 279.73,55.57 279.97,55.49 280.22,55.41 280.47,55.33 280.72,55.25 280.97,55.17 281.22,55.09 281.47,55.02 281.72,54.94 281.97,54.86 282.22,54.78 282.47,54.7 282.72,54.63 282.97,54.55 283.22,54.47 283.47,54.4 283.71,54.32 283.96,54.24 284.21,54.17 284.46,54.09 284.71,54.02 284.96,53.94 285.21,53.87 285.46,53.79 285.71,53.72 285.96,53.64 286.21,53.57 286.46,53.49 286.71,53.42 286.96,53.35 287.2,53.28 287.45,53.2 287.7,53.13 287.95,53.06 288.2,52.99 288.45,52.91 288.7,52.84 288.95,52.77 289.2,52.7 289.45,52.63 289.7,52.56 289.95,52.49 290.2,52.42 290.45,52.35 290.7,52.28 290.94,52.21 291.19,52.14 291.44,52.07 291.69,52 291.94,51.93 292.19,51.87 292.44,51.8 292.69,51.73 292.94,51.66 293.19,51.6 293.44,51.53 293.69,51.46 293.94,51.4 294.19,51.33 294.43,51.26 294.68,51.2 294.93,51.13 295.18,51.07 295.43,51 295.68,50.94 295.93,50.87 296.18,50.81 296.43,50.74 296.68,50.68 296.93,50.62 297.18,50.55 297.43,50.49 297.68,50.43 297.93,50.36 298.17,50.3 298.42,50.24 298.67,50.18 298.92,50.12 299.17,50.05 299.42,49.99 299.67,49.93 299.92,49.87 300.17,49.81 300.42,49.75 300.67,49.69 300.92,49.63 301.17,49.57 301.42,49.51 301.67,49.45 301.91,49.39 302.16,49.33 302.41,49.28 302.66,49.22 302.91,49.16 303.16,49.1 303.41,49.04 303.66,48.99 303.91,48.93 304.16,48.87 304.41,48.82 304.66,48.76 304.91,48.7 305.16,48.65 305.4,48.59 305.65,48.54 305.9,48.48 306.15,48.43 306.4,48.37 306.65,48.32 306.9,48.26 307.15,48.21 307.4,48.16 307.65,48.1 307.9,48.05 308.15,48 308.4,47.95 308.65,47.89 308.9,47.84 309.14,47.79 309.39,47.74 309.64,47.69 309.89,47.63 310.14,47.58 310.39,47.53 310.64,47.48 310.89,47.43 311.14,47.38 311.39,47.33 311.64,47.28 311.89,47.23 312.14,47.18 312.39,47.14 312.63,47.09 312.88,47.04 313.13,46.99 313.38,46.94 313.63,46.89 313.88,46.85 314.13,46.8 314.38,46.75 314.63,46.71 314.88,46.66 315.13,46.61 315.38,46.57 315.63,46.52 315.88,46.48 316.13,46.43 316.37,46.39 316.62,46.34 316.87,46.3 317.12,46.25 317.37,46.21 317.62,46.17 317.87,46.12 318.12,46.08 318.37,46.04 318.62,46 318.87,45.95 319.12,45.91 319.37,45.87 319.62,45.83 319.86,45.79 320.11,45.75 320.36,45.71 320.61,45.66 320.86,45.62 321.11,45.58 321.36,45.54 321.61,45.51 321.86,45.47 322.11,45.43 322.36,45.39 322.61,45.35 322.86,45.31 323.11,45.27 323.36,45.24 323.6,45.2 323.85,45.16 324.1,45.13 324.35,45.09 324.6,45.05 324.85,45.02 325.1,44.98 325.35,44.95 325.6,44.91 325.85,44.88 326.1,44.84 326.35,44.81 326.6,44.77 326.85,44.74 327.09,44.71 327.34,44.67 327.59,44.64 327.84,44.61 328.09,44.58 328.34,44.54 328.59,44.51 328.84,44.48 329.09,44.45 329.34,44.42 329.59,44.39 329.84,44.36 330.09,44.33 330.34,44.3 330.59,44.27 330.83,44.24 331.08,44.21 331.33,44.19 331.58,44.16 331.83,44.13 332.08,44.1 332.33,44.08 332.58,44.05 332.83,44.02 333.08,44 333.33,43.97 333.58,43.95 333.83,43.92 334.08,43.9 334.32,43.88 334.57,43.85 334.82,43.83 335.07,43.81 335.32,43.78 335.57,43.76 335.82,43.74 336.07,43.72 336.32,43.7 336.57,43.68 336.82,43.66 337.07,43.64 337.32,43.62 337.57,43.61 337.82,43.59 338.06,43.57 338.31,43.55 338.56,43.54 338.81,43.52 339.06,43.51 339.31,43.5 339.56,43.48 339.81,43.47 340.06,43.46 340.31,43.45 340.56,43.45 340.56,292.76" fill="#EDEDED" shape-rendering="crispEdges"/>
<polyline points="91.25,292.76 91.5,288.58 91.75,285.81 91.99,283.46 92.24,281.35 92.49,279.4 92.74,277.58 92.99,275.86 93.24,274.22 93.49,272.65 93.74,271.15 93.99,269.7 94.24,268.29 94.49,266.93 94.74,265.61 94.99,264.32 95.24,263.07 95.48,261.85 95.73,260.65 95.98,259.48 96.23,258.33 96.48,257.21 96.73,256.1 96.98,255.02 97.23,253.96 97.48,252.91 97.73,251.88 97.98,250.87 98.23,249.87 98.48,248.89 98.73,247.92 98.98,246.97 99.22,246.03 99.47,245.1 99.72,244.18 99.97,243.28 100.22,242.38 100.47,241.5 100.72,240.63 100.97,239.77 101.22,238.91 101.47,238.07 101.72,237.24 101.97,236.41 102.22,235.6 102.47,234.79 102.71,233.99 102.96,233.2 103.21,232.41 103.46,231.64 103.71,230.87 103.96,230.11 104.21,229.35 104.46,228.61 104.71,227.86 104.96,227.13 105.21,226.4 105.46,225.68 105.71,224.96 105.96,224.25 106.21,223.55 106.45,222.85 106.7,222.16 106.95,221.47 107.2,220.79 107.45,220.11 107.7,219.44 107.95,218.77 108.2,218.11 108.45,217.45 108.7,216.8 108.95,216.15 109.2,215.51 109.45,214.87 109.7,214.23 109.94,213.6 110.19,212.98 110.44,212.36 110.69,211.74 110.94,211.13 111.19,210.52 111.44,209.91 111.69,209.31 111.94,208.71 112.19,208.12 112.44,207.53 112.69,206.94 112.94,206.36 113.19,205.78 113.44,205.2 113.68,204.63 113.93,204.06 114.18,203.5 114.43,202.94 114.68,202.38 114.93,201.82 115.18,201.27 115.43,200.72 115.68,200.17 115.93,199.63 116.18,199.09 116.43,198.55 116.68,198.02 116.93,197.48 117.17,196.95 117.42,196.43 117.67,195.91 117.92,195.38 118.17,194.87 118.42,194.35 118.67,193.84 118.92,193.33 119.17,192.82 119.42,192.32 119.67,191.82 119.92,191.32 120.17,190.82 120.42,190.32 120.67,189.83 120.91,189.34 121.16,188.85 121.41,188.37 121.66,187.89 121.91,187.41 122.16,186.93 122.41,186.45 122.66,185.98 122.91,185.51 123.16,185.04 123.41,184.57 123.66,184.1 123.91,183.64 124.16,183.18 124.4,182.72 124.65,182.26 124.9,181.81 125.15,181.36 125.4,180.91 125.65,180.46 125.9,180.01 126.15,179.57 126.4,179.12 126.65,178.68 126.9,178.24 127.15,177.81 127.4,177.37 127.65,176.94 127.9,176.51 128.14,176.08 128.39,175.65 128.64,175.22 128.89,174.8 129.14,174.37 129.39,173.95 129.64,173.53 129.89,173.11 130.14,172.7 130.39,172.28 130.64,171.87 130.89,171.46 131.14,171.05 131.39,170.64 131.63,170.24 131.88,169.83 132.13,169.43 132.38,169.03 132.63,168.63 132.88,168.23 133.13,167.83 133.38,167.44 133.63,167.04 133.88,166.65 134.13,166.26 134.38,165.87 134.63,165.48 134.88,165.1 135.13,164.71 135.37,164.33 135.62,163.95 135.87,163.57 136.12,163.19 136.37,162.81 136.62,162.43 136.87,162.06 137.12,161.68 137.37,161.31 137.62,160.94 137.87,160.57 138.12,160.2 138.37,159.84 138.62,159.47 138.86,159.1 139.11,158.74 139.36,158.38 139.61,158.02 139.86,157.66 140.11,157.3 140.36,156.94 140.61,156.59 140.86,156.23 141.11,155.88 141.36,155.53 141.61,155.18 141.86,154.83 142.11,154.48 142.36,154.13 142.6,153.79 142.85,153.44 143.1,153.1 143.35,152.76 143.6,152.42 143.85,152.07 144.1,151.74 144.35,151.4 144.6,151.06 144.85,150.73 145.1,150.39 145.35,150.06 145.6,149.72 145.85,149.39 146.09,149.06 146.34,148.73 146.59,148.41 146.84,148.08 147.09,147.75 147.34,147.43 147.59,147.1 147.84,146.78 148.09,146.46 148.34,146.14 148.59,145.82 148.84,145.5 149.09,145.18 149.34,144.86 149.59,144.55 149.83,144.23 150.08,143.92 150.33,143.61 150.58,143.3 150.83,142.99 151.08,142.68 151.33,142.37 151.58,142.06 151.83,141.75 152.08,141.45 152.33,141.14 152.58,140.84 152.83,140.53 153.08,140.23 153.32,139.93 153.57,139.63 153.82,139.33 154.07,139.03 154.32,138.73 154.57,138.43 154.82,138.14 155.07,137.84 155.32,137.55 155.57,137.26 155.82,136.96 156.07,136.67 156.32,136.38 156.57,136.09 156.82,135.8 157.06,135.51 157.31,135.23 157.56,134.94 157.81,134.65 158.06,134.37 158.31,134.09 158.56,133.8 158.81,133.52 159.06,133.24 159.31,132.96 159.56,132.68 159.81,132.4 160.06,132.12 160.31,131.84 160.55,131.57 160.8,131.29 161.05,131.02 161.3,130.74 161.55,130.47 161.8,130.2 162.05,129.92 162.3,129.65 162.55,129.38 162.8,129.11 163.05,128.84 163.3,128.58 163.55,128.31 163.8,128.04 164.05,127.78 164.29,127.51 164.54,127.25 164.79,126.98 165.04,126.72 165.29,126.46 165.54,126.2 165.79,125.94 166.04,125.68 166.29,125.42 166.54,125.16 166.79,124.9 167.04,124.64 167.29,124.39 167.54,124.13 167.78,123.88 168.03,123.62 168.28,123.37 168.53,123.11 168.78,122.86 169.03,122.61 169.28,122.36 169.53,122.11 169.78,121.86 170.03,121.61 170.28,121.36 170.53,121.12 170.78,120.87 171.03,120.62 171.28,120.38 171.52,120.13 171.77,119.89 172.02,119.64 172.27,119.4 172.52,119.16 172.77,118.92 173.02,118.68 173.27,118.44 173.52,118.2 173.77,117.96 174.02,117.72 174.27,117.48 174.52,117.25 174.77,117.01 175.01,116.77 175.26,116.54 175.51,116.3 175.76,116.07 176.01,115.84 176.26,115.6 176.51,115.37 176.76,115.14 177.01,114.91 177.26,114.68 177.51,114.45 177.76,114.22 178.01,113.99 178.26,113.76 178.51,113.54 178.75,113.31 179,113.08 179.25,112.86 179.5,112.63 179.75,112.41 180,112.18 180.25,111.96 180.5,111.74 180.75,111.52 181,111.29 181.25,111.07 181.5,110.85 181.75,110.63 182,110.41 182.25,110.2 182.49,109.98 182.74,109.76 182.99,109.54 183.24,109.33 183.49,109.11 183.74,108.9 183.99,108.68 184.24,108.47 184.49,108.25 184.74,108.04 184.99,107.83 185.24,107.62 185.49,107.4 185.74,107.19 185.98,106.98 186.23,106.77 186.48,106.56 186.73,106.35 186.98,106.15 187.23,105.94 187.48,105.73 187.73,105.52 187.98,105.32 188.23,105.11 188.48,104.91 188.73,104.7 188.98,104.5 189.23,104.29 189.48,104.09 189.72,103.89 189.97,103.69 190.22,103.48 190.47,103.28 190.72,103.08 190.97,102.88 191.22,102.68 191.47,102.48 191.72,102.29 191.97,102.09 192.22,101.89 192.47,101.69 192.72,101.5 192.97,101.3 193.21,101.1 193.46,100.91 193.71,100.71 193.96,100.52 194.21,100.33 194.46,100.13 194.71,99.94 194.96,99.75 195.21,99.56 195.46,99.36 195.71,99.17 195.96,98.98 196.21,98.79 196.46,98.6 196.71,98.41 196.95,98.23 197.2,98.04 197.45,97.85 197.7,97.66 197.95,97.48 198.2,97.29 198.45,97.1 198.7,96.92 198.95,96.73 199.2,96.55 199.45,96.37 199.7,96.18 199.95,96 200.2,95.82 200.44,95.63 200.69,95.45 200.94,95.27 201.19,95.09 201.44,94.91 201.69,94.73 201.94,94.55 202.19,94.37 202.44,94.19 202.69,94.01 202.94,93.84 203.19,93.66 203.44,93.48 203.69,93.31 203.94,93.13 204.18,92.95 204.43,92.78 204.68,92.6 204.93,92.43 205.18,92.26 205.43,92.08 205.68,91.91 205.93,91.74 206.18,91.56 206.43,91.39 206.68,91.22 206.93,91.05 207.18,90.88 207.43,90.71 207.67,90.54 207.92,90.37 208.17,90.2 208.42,90.03 208.67,89.86 208.92,89.7 209.17,89.53 209.42,89.36 209.67,89.2 209.92,89.03 210.17,88.86 210.42,88.7 210.67,88.53 210.92,88.37 211.17,88.21 211.41,88.04 211.66,87.88 211.91,87.72 212.16,87.55 212.41,87.39 212.66,87.23 212.91,87.07 213.16,86.91 213.41,86.75 213.66,86.59 213.91,86.43 214.16,86.27 214.41,86.11 214.66,85.95 214.9,85.79 215.15,85.63 215.4,85.48 215.65,85.32 215.9,85.16 216.15,85.01 216.4,84.85 216.65,84.69 216.9,84.54 217.15,84.38 217.4,84.23 217.65,84.08 217.9,83.92 218.15,83.77 218.4,83.62 218.64,83.46 218.89,83.31 219.14,83.16 219.39,83.01 219.64,82.86 219.89,82.71 220.14,82.55 220.39,82.4 220.64,82.25 220.89,82.11 221.14,81.96 221.39,81.81 221.64,81.66 221.89,81.51 222.13,81.36 222.38,81.22 222.63,81.07 222.88,80.92 223.13,80.78 223.38,80.63 223.63,80.49 223.88,80.34 224.13,80.2 224.38,80.05 224.63,79.91 224.88,79.77 225.13,79.62 225.38,79.48 225.63,79.34 225.87,79.19 226.12,79.05 226.37,78.91 226.62,78.77 226.87,78.63 227.12,78.49 227.37,78.35 227.62,78.21 227.87,78.07 228.12,77.93 228.37,77.79 228.62,77.65 228.87,77.51 229.12,77.38 229.36,77.24 229.61,77.1 229.86,76.96 230.11,76.83 230.36,76.69 230.61,76.56 230.86,76.42 231.11,76.29 231.36,76.15 231.61,76.02 231.86,75.88 232.11,75.75 232.36,75.61 232.61,75.48 232.86,75.35 233.1,75.22 233.35,75.08 233.6,74.95 233.85,74.82 234.1,74.69 234.35,74.56 234.6,74.43 234.85,74.3 235.1,74.17 235.35,74.04 235.6,73.91 235.85,73.78 236.1,73.65 236.35,73.52 236.59,73.39 236.84,73.27 237.09,73.14 237.34,73.01 237.59,72.89 237.84,72.76 238.09,72.63 238.34,72.51 238.59,72.38 238.84,72.26 239.09,72.13 239.34,72.01 239.59,71.88 239.84,71.76 240.09,71.63 240.33,71.51 240.58,71.39 240.83,71.27 241.08,71.14 241.33,71.02 241.58,70.9 241.83,70.78 242.08,70.66 242.33,70.54 242.58,70.41 242.83,70.29 243.08,70.17 243.33,70.05 243.58,69.94 243.82,69.82 244.07,69.7 244.32,69.58 244.57,69.46 244.82,69.34 245.07,69.23 245.32,69.11 245.57,68.99 245.82,68.87 246.07,68.76 246.32,68.64 246.57,68.53 246.82,68.41 247.07,68.3 247.32,68.18 247.56,68.07 247.81,67.95 248.06,67.84 248.31,67.72 248.56,67.61 248.81,67.5 249.06,67.38 249.31,67.27 249.56,67.16 249.81,67.05 250.06,66.93 250.31,66.82 250.56,66.71 250.81,66.6 251.05,66.49 251.3,66.38 251.55,66.27 251.8,66.16 252.05,66.05 252.3,65.94 252.55,65.83 252.8,65.72 253.05,65.62 253.3,65.51 253.55,65.4 253.8,65.29 254.05,65.19 254.3,65.08 254.55,64.97 254.79,64.87 255.04,64.76 255.29,64.65 255.54,64.55 255.79,64.44 256.04,64.34 256.29,64.23 256.54,64.13 256.79,64.02 257.04,63.92 257.29,63.82 257.54,63.71 257.79,63.61 258.04,63.51 258.28,63.4 258.53,63.3 258.78,63.2 259.03,63.1 259.28,63 259.53,62.9 259.78,62.8 260.03,62.69 260.28,62.59 260.53,62.49 260.78,62.39 261.03,62.29 261.28,62.2 261.53,62.1 261.78,62 262.02,61.9 262.27,61.8 262.52,61.7 262.77,61.61 263.02,61.51 263.27,61.41 263.52,61.31 263.77,61.22 264.02,61.12 264.27,61.02 264.52,60.93 264.77,60.83 265.02,60.74 265.27,60.64 265.51,60.55 265.76,60.45 266.01,60.36 266.26,60.27 266.51,60.17 266.76,60.08 267.01,59.99 267.26,59.89 267.51,59.8 267.76,59.71 268.01,59.61 268.26,59.52 268.51,59.43 268.76,59.34 269.01,59.25 269.25,59.16 269.5,59.07 269.75,58.98 270,58.89 270.25,58.8 270.5,58.71 270.75,58.62 271,58.53 271.25,58.44 271.5,58.35 271.75,58.26 272,58.18 272.25,58.09 272.5,58 272.74,57.91 272.99,57.83 273.24,57.74 273.49,57.65 273.74,57.57 273.99,57.48 274.24,57.39 274.49,57.31 274.74,57.22 274.99,57.14 275.24,57.05 275.49,56.97 275.74,56.88 275.99,56.8 276.24,56.72 276.48,56.63 276.73,56.55 276.98,56.47 277.23,56.38 277.48,56.3 277.73,56.22 277.98,56.14 278.23,56.06 278.48,55.97 278.73,55.89 278.98,55.81 279.23,55.73 279.48,55.65 279.73,55.57 279.97,55.49 280.22,55.41 280.47,55.33 280.72,55.25 280.97,55.17 281.22,55.09 281.47,55.02 281.72,54.94 281.97,54.86 282.22,54.78 282.47,54.7 282.72,54.63 282.97,54.55 283.22,54.47 283.47,54.4 283.71,54.32 283.96,54.24 284.21,54.17 284.46,54.09 284.71,54.02 284.96,53.94 285.21,53.87 285.46,53.79 285.71,53.72 285.96,53.64 286.21,53.57 286.46,53.49 286.71,53.42 286.96,53.35 287.2,53.28 287.45,53.2 287.7,53.13 287.95,53.06 288.2,52.99 288.45,52.91 288.7,52.84 288.95,52.77 289.2,52.7 289.45,52.63 289.7,52.56 289.95,52.49 290.2,52.42 290.45,52.35 290.7,52.28 290.94,52.21 291.19,52.14 291.44,52.07 291.69,52 291.94,51.93 292.19,51.87 292.44,51.8 292.69,51.73 292.94,51.66 293.19,51.6 293.44,51.53 293.69,51.46 293.94,51.4 294.19,51.33 294.43,51.26 294.68,51.2 294.93,51.13 295.18,51.07 295.43,51 295.68,50.94 295.93,50.87 296.18,50.81 296.43,50.74 296.68,50.68 296.93,50.62 297.18,50.55 297.43,50.49 297.68,50.43 297.93,50.36 298.17,50.3 298.42,50.24 298.67,50.18 298.92,50.12 299.17,50.05 299.42,49.99 299.67,49.93 299.92,49.87 300.17,49.81 300.42,49.75 300.67,49.69 300.92,49.63 301.17,49.57 301.42,49.51 301.67,49.45 301.91,49.39 302.16,49.33 302.41,49.28 302.66,49.22 302.91,49.16 303.16,49.1 303.41,49.04 303.66,48.99 303.91,48.93 304.16,48.87 304.41,48.82 304.66,48.76 304.91,48.7 305.16,48.65 305.4,48.59 305.65,48.54 305.9,48.48 306.15,48.43 306.4,48.37 306.65,48.32 306.9,48.26 307.15,48.21 307.4,48.16 307.65,48.1 307.9,48.05 308.15,48 308.4,47.95 308.65,47.89 308.9,47.84 309.14,47.79 309.39,47.74 309.64,47.69 309.89,47.63 310.14,47.58 310.39,47.53 310.64,47.48 310.89,47.43 311.14,47.38 311.39,47.33 311.64,47.28 311.89,47.23 312.14,47.18 312.39,47.14 312.63,47.09 312.88,47.04 313.13,46.99 313.38,46.94 313.63,46.89 313.88,46.85 314.13,46.8 314.38,46.75 314.63,46.71 314.88,46.66 315.13,46.61 315.38,46.57 315.63,46.52 315.88,46.48 316.13,46.43 316.37,46.39 316.62,46.34 316.87,46.3 317.12,46.25 317.37,46.21 317.62,46.17 317.87,46.12 318.12,46.08 318.37,46.04 318.62,46 318.87,45.95 319.12,45.91 319.37,45.87 319.62,45.83 319.86,45.79 320.11,45.75 320.36,45.71 320.61,45.66 320.86,45.62 321.11,45.58 321.36,45.54 321.61,45.51 321.86,45.47 322.11,45.43 322.36,45.39 322.61,45.35 322.86,45.31 323.11,45.27 323.36,45.24 323.6,45.2 323.85,45.16 324.1,45.13 324.35,45.09 324.6,45.05 324.85,45.02 325.1,44.98 325.35,44.95 325.6,44.91 325.85,44.88 326.1,44.84 326.35,44.81 326.6,44.77 326.85,44.74 327.09,44.71 327.34,44.67 327.59,44.64 327.84,44.61 328.09,44.58 328.34,44.54 328.59,44.51 328.84,44.48 329.09,44.45 329.34,44.42 329.59,44.39 329.84,44.36 330.09,44.33 330.34,44.3 330.59,44.27 330.83,44.24 331.08,44.21 331.33,44.19 331.58,44.16 331.83,44.13 332.08,44.1 332.33,44.08 332.58,44.05 332.83,44.02 333.08,44 333.33,43.97 333.58,43.95 333.83,43.92 334.08,43.9 334.32,43.88 334.57,43.85 334.82,43.83 335.07,43.81 335.32,43.78 335.57,43.76 335.82,43.74 336.07,43.72 336.32,43.7 336.57,43.68 336.82,43.66 337.07,43.64 337.32,43.62 337.57,43.61 337.82,43.59 338.06,43.57 338.31,43.55 338.56,43.54 338.81,43.52 339.06,43.51 339.31,43.5 339.56,43.48 339.81,43.47 340.06,43.46 340.31,43.45 340.56,43.45" fill="none" stroke="#000" stroke-width="1.0"/>
<polyline points="91.25,292.76 91.5,288.58 91.75,285.81 91.99,283.46 92.24,281.35 92.49,279.4 92.74,277.58 92.99,275.86 93.24,274.22 93.49,272.65 93.74,271.15 93.99,269.7 94.24,268.29 94.49,266.93 94.74,265.61 94.99,264.32 95.24,263.07 95.48,261.85 95.73,260.65 95.98,259.48 96.23,258.33 96.48,257.21 96.73,256.1 96.98,255.02 97.23,253.96 97.48,252.91 97.73,251.88 97.98,250.87 98.23,249.87 98.48,248.89 98.73,247.92 98.98,246.97 99.22,246.03 99.47,245.1 99.72,244.18 99.97,243.28 100.22,242.38 100.47,241.5 100.72,240.63 100.97,239.77 101.22,238.91 101.47,238.07 101.72,237.24 101.97,236.41 102.22,235.6 102.47,234.79 102.71,233.99 102.96,233.2 103.21,232.41 103.46,231.64 103.71,230.87 103.96,230.11 104.21,229.35 104.46,228.61 104.71,227.86 104.96,227.13 105.21,226.4 105.46,225.68 105.71,224.96 105.96,224.25 106.21,223.55 106.45,222.85 106.7,222.16 106.95,221.47 107.2,220.79 107.45,220.11 107.7,219.44 107.95,218.77 108.2,218.11 108.45,217.45 108.7,216.8 108.95,216.15 109.2,215.51 109.45,214.87 109.7,214.23 109.94,213.6 110.19,212.98 110.44,212.36 110.69,211.74 110.94,211.13 111.19,210.52 111.44,209.91 111.69,209.31 111.94,208.71 112.19,208.12 112.44,207.53 112.69,206.94 112.94,206.36 113.19,205.78 113.44,205.2 113.68,204.63 113.93,204.06 114.18,203.5 114.43,202.94 114.68,202.38 114.93,201.82 115.18,201.27 115.43,200.72 115.68,200.17 115.93,199.63 116.18,199.09 116.43,198.55 116.68,198.02 116.93,197.48 117.17,196.95 117.42,196.43 117.67,195.91 117.92,195.38 118.17,194.87 118.42,194.35 118.67,193.84 118.92,193.33 119.17,192.82 119.42,192.32 119.67,191.82 119.92,191.32 120.17,190.82 120.42,190.32 120.67,189.83 120.91,189.34 121.16,188.85 121.41,188.37 121.66,187.89 121.91,187.41 122.16,186.93 122.41,186.45 122.66,185.98 122.91,185.51 123.16,185.04 123.41,184.57 123.66,184.1 123.91,183.64 124.16,183.18 124.4,182.72 124.65,182.26 124.9,181.81 125.15,181.36 125.4,180.91 125.65,180.46 125.9,180.01 126.15,179.57 126.4,179.12 126.65,178.68 126.9,178.24 127.15,177.81 127.4,177.37 127.65,176.94 127.9,176.51 128.14,176.08 128.39,175.65 128.64,175.22 128.89,174.8 129.14,174.37 129.39,173.95 129.64,173.53 129.89,173.11 130.14,172.7 130.39,172.28 130.64,171.87 130.89,171.46 131.14,171.05 131.39,170.64 131.63,170.24 131.88,169.83 132.13,169.43 132.38,169.03 132.63,168.63 132.88,168.23 133.13,167.83 133.38,167.44 133.63,167.04 133.88,166.65 134.13,166.26 134.38,165.87 134.63,165.48 134.88,165.1 135.13,164.71 135.37,164.33 135.62,163.95 135.87,163.57 136.12,163.19 136.37,162.81 136.62,162.43 136.87,162.06 137.12,161.68 137.37,161.31 137.62,160.94 137.87,160.57 138.12,160.2 138.37,159.84 138.62,159.47 138.86,159.1 139.11,158.74 139.36,158.38 139.61,158.02 139.86,157.66 140.11,157.3 140.36,156.94 140.61,156.59 140.86,156.23 141.11,155.88 141.36,155.53 141.61,155.18 141.86,154.83 142.11,154.48 142.36,154.13 142.6,153.79 142.85,153.44 143.1,153.1 143.35,152.76 143.6,152.42 143.85,152.07 144.1,151.74 144.35,151.4 144.6,151.06 144.85,150.73 145.1,150.39 145.35,150.06 145.6,149.72 145.85,149.39 146.09,149.06 146.34,148.73 146.59,148.41 146.84,148.08 147.09,147.75 147.34,147.43 147.59,147.1 147.84,146.78 148.09,146.46 148.34,146.14 148.59,145.82 148.84,145.5 149.09,145.18 149.34,144.86 149.59,144.55 149.83,144.23 150.08,143.92 150.33,143.61 150.58,143.3 150.83,142.99 151.08,142.68 151.33,142.37 151.58,142.06 151.83,141.75 152.08,141.45 152.33,141.14 152.58,140.84 152.83,140.53 153.08,140.23 153.32,139.93 153.57,139.63 153.82,139.33 154.07,139.03 154.32,138.73 154.57,138.43 154.82,138.14 155.07,137.84 155.32,137.55 155.57,137.26 155.82,136.96 156.07,136.67 156.32,136.38 156.57,136.09 156.82,135.8 157.06,135.51 157.31,135.23 157.56,134.94 157.81,134.65 158.06,134.37 158.31,134.09 158.56,133.8 158.81,133.52 159.06,133.24 159.31,132.96 159.56,132.68 159.81,132.4 160.06,132.12 160.31,131.84 160.55,131.57 160.8,131.29 161.05,131.02 161.3,130.74 161.55,130.47 161.8,130.2 162.05,129.92 162.3,129.65 162.55,129.38 162.8,129.11 163.05,128.84 163.3,128.58 163.55,128.31 163.8,128.04 164.05,127.78 164.29,127.51 164.54,127.25 164.79,126.98 165.04,126.72 165.29,126.46 165.54,126.2 165.79,125.94 166.04,125.68 166.29,125.42 166.54,125.16 166.79,124.9 167.04,124.64 167.29,124.39 167.54,124.13 167.78,123.88 168.03,123.62 168.28,123.37 168.53,123.11 168.78,122.86 169.03,122.61 169.28,122.36 169.53,122.11 169.78,121.86 170.03,121.61 170.28,121.36 170.53,121.12 170.78,120.87 171.03,120.62 171.28,120.38 171.52,120.13 171.77,119.89 172.02,119.64 172.27,119.4 172.52,119.16 172.77,118.92 173.02,118.68 173.27,118.44 173.52,118.2 173.77,117.96 174.02,117.72 174.27,117.48 174.52,117.25 174.77,117.01 175.01,116.77 175.26,116.54 175.51,116.3 175.76,116.07 176.01,115.84 176.26,115.6 176.51,115.37 176.76,115.14 177.01,114.91 177.26,114.68 177.51,114.45 177.76,114.22 178.01,113.99 178.26,113.76 178.51,113.54 178.75,113.31 179,113.08 179.25,112.86 179.5,112.63 179.75,112.41 180,112.18 180.25,111.96 180.5,111.74 180.75,111.52 181,111.29 181.25,111.07 181.5,110.85 181.75,110.63 182,110.41 182.25,110.2 182.49,109.98 182.74,109.76 182.99,109.54 183.24,109.33 183.49,109.11 183.74,108.9 183.99,108.68 184.24,108.47 184.49,108.25 184.74,108.04 184.99,107.83 185.24,107.62 185.49,107.4 185.74,107.19 185.98,106.98 186.23,106.77 186.48,106.56 186.73,106.35 186.98,106.15 187.23,105.94 187.48,105.73 187.73,105.52 187.98,105.32 188.23,105.11 188.48,104.91 188.73,104.7 188.98,104.5 189.23,104.29 189.48,104.09 189.72,103.89 189.97,103.69 190.22,103.48 190.47,103.28 190.72,103.08 190.97,102.88 191.22,102.68 191.47,102.48 191.72,102.29 191.97,102.09 192.22,101.89 192.47,101.69 192.72,101.5 192.97,101.3 193.21,101.1 193.46,100.91 193.71,100.71 193.96,100.52 194.21,100.33 194.46,100.13 194.71,99.94 194.96,99.75 195.21,99.56 195.46,99.36 195.71,99.17 195.96,98.98 196.21,98.79 196.46,98.6 196.71,98.41 196.95,98.23 197.2,98.04 197.45,97.85 197.7,97.66 197.95,97.48 198.2,97.29 198.45,97.1 198.7,96.92 198.95,96.73 199.2,96.55 199.45,96.37 199.7,96.18 199.95,96 200.2,95.82 200.44,95.63 200.69,95.45 200.94,95.27 201.19,95.09 201.44,94.91 201.69,94.73 201.94,94.55 202.19,94.37 202.44,94.19 202.69,94.01 202.94,93.84 203.19,93.66 203.44,93.48 203.69,93.31 203.94,93.13 204.18,92.95 204.43,92.78 204.68,92.6 204.93,92.43 205.18,92.26 205.43,92.08 205.68,91.91 205.93,91.74 206.18,91.56 206.43,91.39 206.68,91.22 206.93,91.05 207.18,90.88 207.43,90.71 207.67,90.54 207.92,90.37 208.17,90.2 208.42,90.03 208.67,89.86 208.92,89.7 209.17,89.53 209.42,89.36 209.67,89.2 209.92,89.03 210.17,88.86 210.42,88.7 210.67,88.53 210.92,88.37 211.17,88.21 211.41,88.04 211.66,87.88 211.91,87.72 212.16,87.55 212.41,87.39 212.66,87.23 212.91,87.07 213.16,86.91 213.41,86.75 213.66,86.59 213.91,86.43 214.16,86.27 214.41,86.11 214.66,85.95 214.9,85.79 215.15,85.63 215.4,85.48 215.65,85.32 215.9,85.16 216.15,85.01 216.4,84.85 216.65,84.69 216.9,84.54 217.15,84.38 217.4,84.23 217.65,84.08 217.9,83.92 218.15,83.77 218.4,83.62 218.64,83.46 218.89,83.31 219.14,83.16 219.39,83.01 219.64,82.86 219.89,82.71 220.14,82.55 220.39,82.4 220.64,82.25 220.89,82.11 221.14,81.96 221.39,81.81 221.64,81.66 221.89,81.51 222.13,81.36 222.38,81.22 222.63,81.07 222.88,80.92 223.13,80.78 223.38,80.63 223.63,80.49 223.88,80.34 224.13,80.2 224.38,80.05 224.63,79.91 224.88,79.77 225.13,79.62 225.38,79.48 225.63,79.34 225.87,79.19 226.12,79.05 226.37,78.91 226.62,78.77 226.87,78.63 227.12,78.49 227.37,78.35 227.62,78.21 227.87,78.07 228.12,77.93 228.37,77.79 228.62,77.65 228.87,77.51 229.12,77.38 229.36,77.24 229.61,77.1 229.86,76.96 230.11,76.83 230.36,76.69 230.61,76.56 230.86,76.42 231.11,76.29 231.36,76.15 231.61,76.02 231.86,75.88 232.11,75.75 232.36,75.61 232.61,75.48 232.86,75.35 233.1,75.22 233.35,75.08 233.6,74.95 233.85,74.82 234.1,74.69 234.35,74.56 234.6,74.43 234.85,74.3 235.1,74.17 235.35,74.04 235.6,73.91 235.85,73.78 236.1,73.65 236.35,73.52 236.59,73.39 236.84,73.27 237.09,73.14 237.34,73.01 237.59,72.89 237.84,72.76 238.09,72.63 238.34,72.51 238.59,72.38 238.84,72.26 239.09,72.13 239.34,72.01 239.59,71.88 239.84,71.76 240.09,71.63 240.33,71.51 240.58,71.39 240.83,71.27 241.08,71.14 241.33,71.02 241.58,70.9 241.83,70.78 242.08,70.66 242.33,70.54 242.58,70.41 242.83,70.29 243.08,70.17 243.33,70.05 243.58,69.94 243.82,69.82 244.07,69.7 244.32,69.58 244.57,69.46 244.82,69.34 245.07,69.23 245.32,69.11 245.57,68.99 245.82,68.87 246.07,68.76 246.32,68.64 246.57,68.53 246.82,68.41 247.07,68.3 247.32,68.18 247.56,68.07 247.81,67.95 248.06,67.84 248.31,67.72 248.56,67.61 248.81,67.5 249.06,67.38 249.31,67.27 249.56,67.16 249.81,67.05 250.06,66.93 250.31,66.82 250.56,66.71 250.81,66.6 251.05,66.49 251.3,66.38 251.55,66.27 251.8,66.16 252.05,66.05 252.3,65.94 252.55,65.83 252.8,65.72 253.05,65.62 253.3,65.51 253.55,65.4 253.8,65.29 254.05,65.19 254.3,65.08 254.55,64.97 254.79,64.87 255.04,64.76 255.29,64.65 255.54,64.55 255.79,64.44 256.04,64.34 256.29,64.23 256.54,64.13 256.79,64.02 257.04,63.92 257.29,63.82 257.54,63.71 257.79,63.61 258.04,63.51 258.28,63.4 258.53,63.3 258.78,63.2 259.03,63.1 259.28,63 259.53,62.9 259.78,62.8 260.03,62.69 260.28,62.59 260.53,62.49 260.78,62.39 261.03,62.29 261.28,62.2 261.53,62.1 261.78,62 262.02,61.9 262.27,61.8 262.52,61.7 262.77,61.61 263.02,61.51 263.27,61.41 263.52,61.31 263.77,61.22 264.02,61.12 264.27,61.02 264.52,60.93 264.77,60.83 265.02,60.74 265.27,60.64 265.51,60.55 265.76,60.45 266.01,60.36 266.26,60.27 266.51,60.17 266.76,60.08 267.01,59.99 267.26,59.89 267.51,59.8 267.76,59.71 268.01,59.61 268.26,59.52 268.51,59.43 268.76,59.34 269.01,59.25 269.25,59.16 269.5,59.07 269.75,58.98 270,58.89 270.25,58.8 270.5,58.71 270.75,58.62 271,58.53 271.25,58.44 271.5,58.35 271.75,58.26 272,58.18 272.25,58.09 272.5,58 272.74,57.91 272.99,57.83 273.24,57.74 273.49,57.65 273.74,57.57 273.99,57.48 274.24,57.39 274.49,57.31 274.74,57.22 274.99,57.14 275.24,57.05 275.49,56.97 275.74,56.88 275.99,56.8 276.24,56.72 276.48,56.63 276.73,56.55 276.98,56.47 277.23,56.38 277.48,56.3 277.73,56.22 277.98,56.14 278.23,56.06 278.48,55.97 278.73,55.89 278.98,55.81 279.23,55.73 279.48,55.65 279.73,55.57 279.97,55.49 280.22,55.41 280.47,55.33 280.72,55.25 280.97,55.17 281.22,55.09 281.47,55.02 281.72,54.94 281.97,54.86 282.22,54.78 282.47,54.7 282.72,54.63 282.97,54.55 283.22,54.47 283.47,54.4 283.71,54.32 283.96,54.24 284.21,54.17 284.46,54.09 284.71,54.02 284.96,53.94 285.21,53.87 285.46,53.79 285.71,53.72 285.96,53.64 286.21,53.57 286.46,53.49 286.71,53.42 286.96,53.35 287.2,53.28 287.45,53.2 287.7,53.13 287.95,53.06 288.2,52.99 288.45,52.91 288.7,52.84 288.95,52.77 289.2,52.7 289.45,52.63 289.7,52.56 289.95,52.49 290.2,52.42 290.45,52.35 290.7,52.28 290.94,52.21 291.19,52.14 291.44,52.07 291.69,52 291.94,51.93 292.19,51.87 292.44,51.8 292.69,51.73 292.94,51.66 293.19,51.6 293.44,51.53 293.69,51.46 293.94,51.4 294.19,51.33 294.43,51.26 294.68,51.2 294.93,51.13 295.18,51.07 295.43,51 295.68,50.94 295.93,50.87 296.18,50.81 296.43,50.74 296.68,50.68 296.93,50.62 297.18,50.55 297.43,50.49 297.68,50.43 297.93,50.36 298.17,50.3 298.42,50.24 298.67,50.18 298.92,50.12 299.17,50.05 299.42,49.99 299.67,49.93 299.92,49.87 300.17,49.81 300.42,49.75 300.67,49.69 300.92,49.63 301.17,49.57 301.42,49.51 301.67,49.45 301.91,49.39 302.16,49.33 302.41,49.28 302.66,49.22 302.91,49.16 303.16,49.1 303.41,49.04 303.66,48.99 303.91,48.93 304.16,48.87 304.41,48.82 304.66,48.76 304.91,48.7 305.16,48.65 305.4,48.59 305.65,48.54 305.9,48.48 306.15,48.43 306.4,48.37 306.65,48.32 306.9,48.26 307.15,48.21 307.4,48.16 307.65,48.1 307.9,48.05 308.15,48 308.4,47.95 308.65,47.89 308.9,47.84 309.14,47.79 309.39,47.74 309.64,47.69 309.89,47.63 310.14,47.58 310.39,47.53 310.64,47.48 310.89,47.43 311.14,47.38 311.39,47.33 311.64,47.28 311.89,47.23 312.14,47.18 312.39,47.14 312.63,47.09 312.88,47.04 313.13,46.99 313.38,46.94 313.63,46.89 313.88,46.85 314.13,46.8 314.38,46.75 314.63,46.71 314.88,46.66 315.13,46.61 315.38,46.57 315.63,46.52 315.88,46.48 316.13,46.43 316.37,46.39 316.62,46.34 316.87,46.3 317.12,46.25 317.37,46.21 317.62,46.17 317.87,46.12 318.12,46.08 318.37,46.04 318.62,46 318.87,45.95 319.12,45.91 319.37,45.87 319.62,45.83 319.86,45.79 320.11,45.75 320.36,45.71 320.61,45.66 320.86,45.62 321.11,45.58 321.36,45.54 321.61,45.51 321.86,45.47 322.11,45.43 322.36,45.39 322.61,45.35 322.86,45.31 323.11,45.27 323.36,45.24 323.6,45.2 323.85,45.16 324.1,45.13 324.35,45.09 324.6,45.05 324.85,45.02 325.1,44.98 325.35,44.95 325.6,44.91 325.85,44.88 326.1,44.84 326.35,44.81 326.6,44.77 326.85,44.74 327.09,44.71 327.34,44.67 327.59,44.64 327.84,44.61 328.09,44.58 328.34,44.54 328.59,44.51 328.84,44.48 329.09,44.45 329.34,44.42 329.59,44.39 329.84,44.36 330.09,44.33 330.34,44.3 330.59,44.27 330.83,44.24 331.08,44.21 331.33,44.19 331.58,44.16 331.83,44.13 332.08,44.1 332.33,44.08 332.58,44.05 332.83,44.02 333.08,44 333.33,43.97 333.58,43.95 333.83,43.92 334.08,43.9 334.32,43.88 334.57,43.85 334.82,43.83 335.07,43.81 335.32,43.78 335.57,43.76 335.82,43.74 336.07,43.72 336.32,43.7 336.57,43.68 336.82,43.66 337.07,43.64 337.32,43.62 337.57,43.61 337.82,43.59 338.06,43.57 338.31,43.55 338.56,43.54 338.81,43.52 339.06,43.51 339.31,43.5 339.56,43.48 339.81,43.47 340.06,43.46 340.31,43.45 340.56,43.45" fill="none" stroke="#000" stroke-width="1.0"/>
<rect x="81.27" y="33.47" width="269.26" height="269.26" fill="none" stroke="#000" stroke-width="1.0"/>
<path d="M91.25 302.73H340.56 M81.27 292.76V43.45 M91.25 302.73v7.97 M81.27 292.76h-7.97 M141.11 302.73v7.97 M81.27 242.9h-7.97 M190.97 302.73v7.97 M81.27 193.03h-7.97 M240.83 302.73v7.97 M81.27 143.17h-7.97 M290.7 302.73v7.97 M81.27 93.31h-7.97 M340.56 302.73v7.97 M81.27 43.45h-7.97" stroke="#000" stroke-width="1.0" fill="none"/>
<g font-family="Liberation Sans, sans-serif" font-size="13.28" text-anchor="middle" fill="#000" stroke="#000" stroke-width="0.2">
<g transform="translate(91.25 331) scale(1 1.09)"><text text-anchor="start" x="-8.91 -1.87 1.87">0.0</text></g>
<g transform="translate(62 292.76) rotate(-90) scale(1 1.09)"><text text-anchor="start" x="-8.91 -1.87 1.87">0.0</text></g>
<g transform="translate(141.11 331) scale(1 1.09)"><text text-anchor="start" x="-8.91 -1.87 1.87">0.2</text></g>
<g transform="translate(62 242.9) rotate(-90) scale(1 1.09)"><text text-anchor="start" x="-8.91 -1.87 1.87">0.2</text></g>
<g transform="translate(190.97 331) scale(1 1.09)"><text text-anchor="start" x="-8.91 -1.87 1.87">0.4</text></g>
<g transform="translate(62 193.03) rotate(-90) scale(1 1.09)"><text text-anchor="start" x="-8.91 -1.87 1.87">0.4</text></g>
<g transform="translate(240.83 331) scale(1 1.09)"><text text-anchor="start" x="-8.91 -1.87 1.87">0.6</text></g>
<g transform="translate(62 143.17) rotate(-90) scale(1 1.09)"><text text-anchor="start" x="-8.91 -1.87 1.87">0.6</text></g>
<g transform="translate(290.7 331) scale(1 1.09)"><text text-anchor="start" x="-8.91 -1.87 1.87">0.8</text></g>
<g transform="translate(62 93.31) rotate(-90) scale(1 1.09)"><text text-anchor="start" x="-8.91 -1.87 1.87">0.8</text></g>
<g transform="translate(340.56 331) scale(1 1.09)"><text text-anchor="start" x="-1.87 1.87">.0</text><path transform="translate(-8.66 0) scale(0.006484 -0.006484)" d="M583 0L763 0L763 1334L646 1334Q598 1247 482 1161Q366 1076 230 1019L230 861Q300 885 391 933Q482 981 583 1044Z" stroke-width="30.8"/></g>
<g transform="translate(62 43.45) rotate(-90) scale(1 1.09)"><text text-anchor="start" x="-1.87 1.87">.0</text><path transform="translate(-8.66 0) scale(0.006484 -0.006484)" d="M583 0L763 0L763 1334L646 1334Q598 1247 482 1161Q366 1076 230 1019L230 861Q300 885 391 933Q482 981 583 1044Z" stroke-width="30.8"/></g>
<g transform="translate(215.9 362.9) scale(1 1.09)"><text text-anchor="start" x="-1.84">t</text></g>
<g transform="translate(215.9 378.8) scale(1 1.09)"><text text-anchor="start" x="-44.51 -35.61 -25.91 -16.21 -8.51 -1.47 2.27 9.31 16.35 23.39 30.43 37.47">AUC:0.752575</text></g>
<g text-anchor="start">
<text transform="translate(26.9 190.5) rotate(-90) scale(1 1.09)" font-size="13.28">R</text>
<text transform="translate(26.9 181.63) rotate(-90) scale(1 1.09)" font-size="13.28">O</text>
<text transform="translate(26.9 172.17) rotate(-90) scale(1 1.09)" font-size="13.28">C</text>
<text transform="translate(26.4 162) rotate(-90) scale(1 1)" font-size="15.4">(</text>
<text transform="translate(26.9 156) rotate(-90) scale(1 1.09)" font-size="13.28">t</text>
<text transform="translate(26.4 151.4) rotate(-90) scale(1 1)" font-size="15.0">)</text>
</g>
<text transform="translate(215.9 22.6) scale(1 1.09)" font-weight="bold" font-size="15.94" stroke-width="0.3" textLength="187.6" lengthAdjust="spacing">ROC Function (binormal)</text>
</g>
</g>
</svg></body></html>
